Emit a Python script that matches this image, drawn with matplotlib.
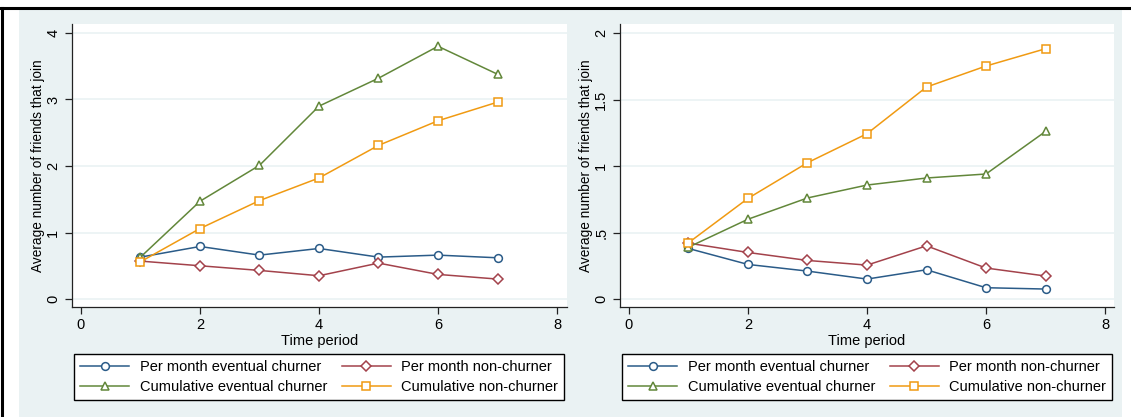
import matplotlib
matplotlib.use("Agg")
import matplotlib.pyplot as plt
from matplotlib.patches import Rectangle
from matplotlib.lines import Line2D

plt.rcParams['font.family'] = ['Liberation Sans', 'DejaVu Sans']

periods = [1, 2, 3, 4, 5, 6, 7]

# Left panel
left_pm_churner = [0.63, 0.79, 0.66, 0.76, 0.63, 0.66, 0.62]
left_pm_nonchurner = [0.57, 0.50, 0.43, 0.35, 0.54, 0.37, 0.30]
left_cum_churner = [0.63, 1.47, 2.01, 2.90, 3.32, 3.80, 3.38]
left_cum_nonchurner = [0.56, 1.06, 1.48, 1.82, 2.31, 2.68, 2.96]

# Right panel
right_pm_churner = [0.38, 0.26, 0.21, 0.15, 0.22, 0.085, 0.075]
right_pm_nonchurner = [0.42, 0.35, 0.29, 0.255, 0.40, 0.233, 0.173]
right_cum_churner = [0.39, 0.60, 0.76, 0.857, 0.91, 0.94, 1.26]
right_cum_nonchurner = [0.423, 0.757, 1.025, 1.243, 1.594, 1.752, 1.882]

xticks = [0, 2, 4, 6, 8]
left_yticks = [0, 1, 2, 3, 4]
left_yticklabels = ["0", "1", "2", "3", "4"]
right_yticks = [0, 0.5, 1, 1.5, 2]
right_yticklabels = ["0", ".5", "1", "1.5", "2"]

series_labels = ["Per month eventual churner", "Per month non-churner",
                 "Cumulative eventual churner", "Cumulative non-churner"]
colors = ["#2A5B88", "#A3424B", "#62873A", "#F09A12"]
markers = ["o", "D", "^", "s"]
msizes = [5.6, 5.0, 6.0, 5.6]

W, H = 1131, 417
fig = plt.figure(figsize=(W / 100, H / 100), dpi=100, facecolor="white")

bg = "#EAF2F3"
fig.patches.append(Rectangle((19 / W, 0), (1122 - 19) / W, (H - 10) / H,
                             transform=fig.transFigure, facecolor=bg,
                             edgecolor="none", zorder=-10))
fig.lines.append(Line2D([0, 1], [1 - 7.5 / H, 1 - 7.5 / H], transform=fig.transFigure,
                        color="black", lw=2.2, zorder=5))
fig.lines.append(Line2D([2 / W, 2 / W], [0, 1 - 7.5 / H], transform=fig.transFigure,
                        color="black", lw=2.2, zorder=5))


def make_panel(rect, data, yticks, yticklabels, ylim, xlim, legend_center):
    ax = fig.add_axes(rect)
    ax.set_facecolor("white")
    for yt in yticks:
        ax.axhline(yt, color=bg, lw=1.2, zorder=1)
    handles = []
    for i in range(4):
        h, = ax.plot(periods, data[i], color=colors[i], lw=1.1, marker=markers[i],
                     markersize=msizes[i], markerfacecolor="white",
                     markeredgecolor=colors[i], markeredgewidth=1.1, zorder=3,
                     label=series_labels[i])
        handles.append(h)
    ax.set_xlim(*xlim)
    ax.set_ylim(*ylim)
    ax.set_xticks(xticks)
    ax.set_yticks(yticks)
    ax.set_yticklabels(yticklabels, rotation=90, va="center")
    ax.tick_params(axis="both", direction="out", length=5, width=0.9, color="#222222",
                   labelsize=10.5)
    ax.tick_params(axis="y", pad=3.5)
    ax.tick_params(axis="x", pad=3)
    ax.spines["top"].set_visible(False)
    ax.spines["right"].set_visible(False)
    for s in ["left", "bottom"]:
        ax.spines[s].set_color("#222222")
        ax.spines[s].set_linewidth(0.9)
    ax.set_xlabel("Time period", fontsize=10.5, labelpad=1)
    ax.set_ylabel("Average number of friends that join", fontsize=9.8, labelpad=1)
    order = [0, 2, 1, 3]
    leg = fig.legend(handles=[handles[i] for i in order],
                     labels=[series_labels[i] for i in order], ncol=2,
                     loc="center", bbox_to_anchor=legend_center,
                     bbox_transform=fig.transFigure,
                     fontsize=10.5, frameon=True, fancybox=False,
                     edgecolor="black", facecolor="white", framealpha=1,
                     handlelength=3.4, columnspacing=1.0, handletextpad=0.7,
                     labelspacing=0.42, borderpad=0.4)
    leg.get_frame().set_linewidth(1.0)
    return ax


def axrect(x0, x1, y0, y1):
    return [x0 / W, 1 - y1 / H, (x1 - x0) / W, (y1 - y0) / H]


make_panel(axrect(72, 567, 24, 307),
           [left_pm_churner, left_pm_nonchurner, left_cum_churner, left_cum_nonchurner],
           left_yticks, left_yticklabels, (-0.120, 4.135), (-0.151, 8.168),
           ((76 + 562) / 2 / W, 1 - 377 / H))

make_panel(axrect(620, 1114, 24, 307),
           [right_pm_churner, right_pm_nonchurner, right_cum_churner, right_cum_nonchurner],
           right_yticks, right_yticklabels, (-0.060, 2.068), (-0.151, 8.151),
           ((625 + 1109) / 2 / W, 1 - 377 / H))

fig.savefig("out.png", dpi=100, facecolor="white")
